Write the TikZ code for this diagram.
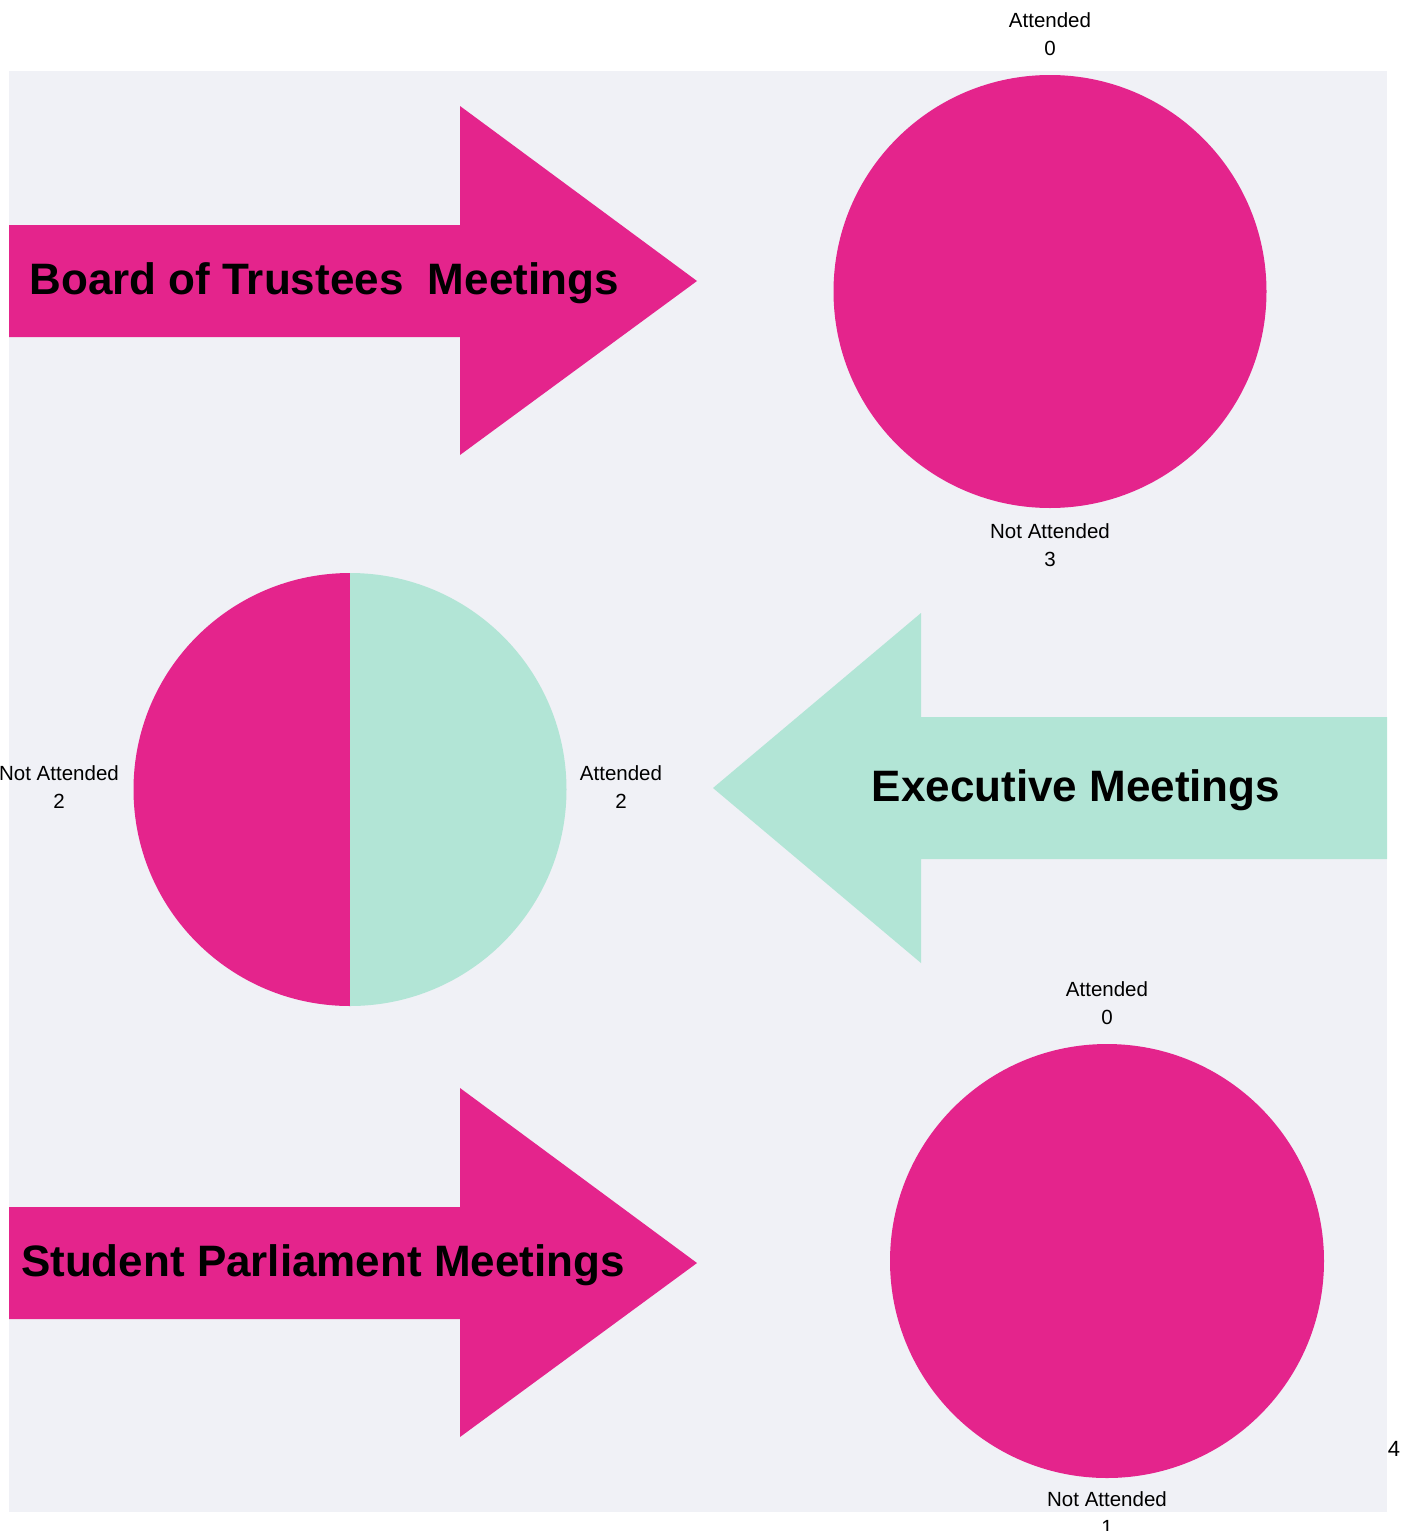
\documentclass[tikz,border=0pt]{standalone}
\usepackage{fontspec}
\setmainfont{Liberation Sans}
\usetikzlibrary{positioning}
\definecolor{pinkfill}{RGB}{228,36,140}
\definecolor{mintfill}{RGB}{178,229,214}
\definecolor{plotbg}{RGB}{240,241,246}

\begin{document}
\begin{tikzpicture}[x=1pt, y=-1pt,
    lbl/.style={align=center, inner sep=0pt, font=\fontsize{20.5}{28}\selectfont},
    title/.style={anchor=base, inner sep=0pt, font=\fontsize{44}{50}\selectfont\bfseries}]
    \useasboundingbox (0,0) rectangle (1407,1531);
    \fill[plotbg] (9,71) rectangle (1387,1512);

    % arrows
    \fill[pinkfill] (9,225) -- (460,225) -- (460,106) -- (697,281) -- (460,455) -- (460,337) -- (9,337) -- cycle;
    \fill[mintfill] (1387,717) -- (921,717) -- (921,613) -- (713,788) -- (921,963) -- (921,859) -- (1387,859) -- cycle;
    \fill[pinkfill] (9,1207) -- (460,1207) -- (460,1088) -- (697,1263) -- (460,1437) -- (460,1319) -- (9,1319) -- cycle;

    \node[title] (board) at (324,294.5) {Board of Trustees\ \ Meetings};
    \node[title] (exec) at (1076,801) {Executive Meetings};
    \node[title] (parl) at (323,1276) {Student Parliament Meetings};

    % pies
    \fill[pinkfill] (1050,291.5) circle[radius=216.5pt];
    \fill[pinkfill] (350,573) arc[start angle=90, end angle=270, radius=216.5pt] -- cycle;
    \fill[mintfill] (350,573) arc[start angle=90, end angle=-90, radius=216.5pt] -- cycle;
    \fill[pinkfill] (1107,1261) circle[radius=217pt];

    \node[lbl] (att1) at (1050,34) {Attended\\0};
    \node[lbl] (not1) at (1050,545.5) {Not Attended\\3};
    \node[lbl] (not2) at (59,787.5) {Not Attended\\2};
    \node[lbl] (att2) at (621,787.5) {Attended\\2};
    \node[lbl] (att3) at (1107,1003) {Attended\\0};
    \node[lbl] (not3) at (1107,1513) {Not Attended\\1};
    \node[lbl, font=\fontsize{22}{28}\selectfont] (four) at (1394,1449) {4};
\end{tikzpicture}
\end{document}
